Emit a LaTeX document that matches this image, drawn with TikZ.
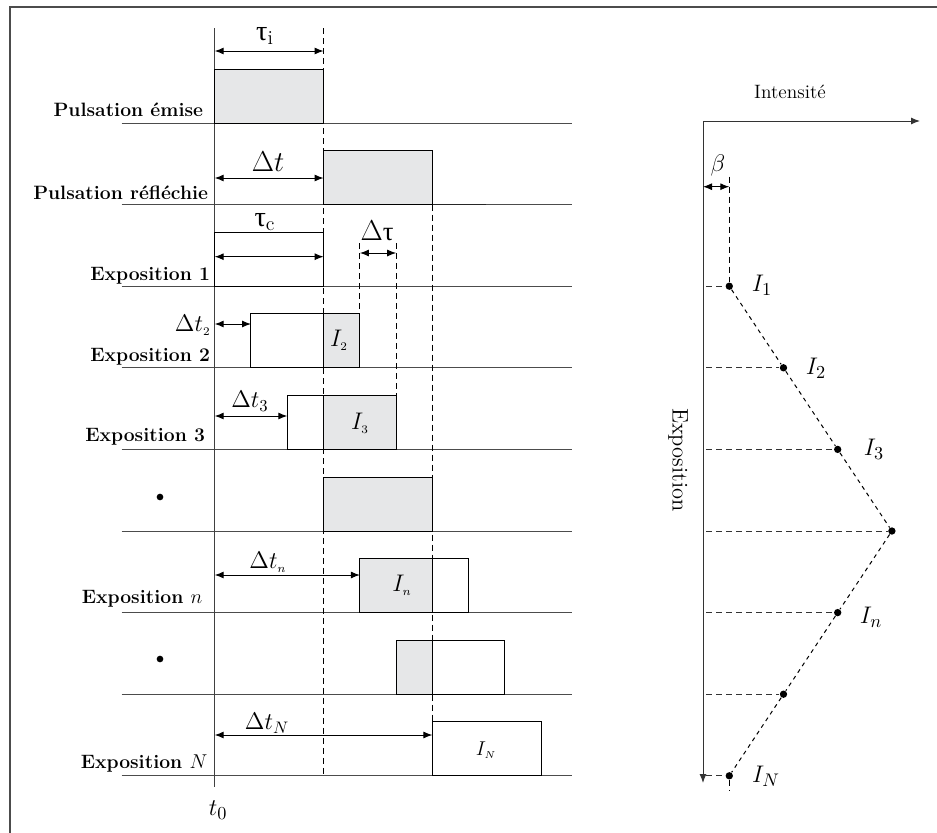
\documentclass[tikz,border=0pt]{standalone}
\usepackage{fontspec}
\usepackage{amsmath}
\usetikzlibrary{positioning, arrows.meta}
\newfontfamily\greekfont{Liberation Serif}
\definecolor{pulsegray}{RGB}{230,231,232}
\tikzset{>={Latex[length=5.4pt, width=4.2pt]}}
\tikzset{
  timeline/.style={draw=black!70},
  pulse/.style={draw=black},
  gray pulse/.style={draw=black, fill=pulsegray},
  guide/.style={dash pattern=on 3.6pt off 2.4pt},
  fine guide/.style={dash pattern=on 2.4pt off 2.4pt},
  rowlabel/.style={font=\fontsize{11.6}{13}\selectfont\bfseries, anchor=base east, inner sep=0pt},
  deltalabel/.style={font=\fontsize{14}{16}\selectfont},
  intlabel/.style={font=\fontsize{15}{18}\selectfont},
  taulabel/.style={font=\fontsize{17}{19}\selectfont\greekfont},
  point/.style={circle, fill, inner sep=0pt, minimum size=4.4pt},
}

\begin{document}
\begin{tikzpicture}[
            x=0.6pt, y=-0.6pt, line width=0.6pt
        ]
        \useasboundingbox (0,0) rectangle (937,833);
        \draw[black!70, line width=1.2pt] (10.3,833) -- (10.3,7) -- (937,7);
        % time lines and t0
        \foreach \r in {0,...,8}
            \draw[timeline] (121.7,{123+81.6*\r}) -- (572,{123+81.6*\r});
        \draw[black!85, line width=0.9pt] (351,204.6) -- (486,204.6);
        \coordinate (t0top) at (214.7,28);
        \coordinate (t0bot) at (214.7,787);
        \draw[black!75] (t0top) -- (t0bot);
        \node[intlabel] (t0) at (218,810) {$t_0$};
        % emitted and reflected pulse
        \draw[gray pulse] (214.7,123) rectangle (323.6,69);
        \draw[gray pulse] (323.6,204.6) rectangle (432.4,150.6);
        % exposures, each one shifted by a third of the pulse
        \foreach \k in {0,...,6}{
            \pgfmathsetmacro{\yb}{286.2+81.6*\k}
            \pgfmathsetmacro{\xa}{214.7+36.28*\k}
            \pgfmathsetmacro{\ga}{max(\xa,323.6)}
            \pgfmathsetmacro{\gb}{min(\xa+108.85,432.4)}
            \ifdim\ga pt<\gb pt
                \draw[gray pulse] ({\ga},{\yb}) rectangle ({\gb},{\yb-54});
            \fi
            \draw[pulse] ({\xa},{\yb}) rectangle ({\xa+108.85},{\yb-54});
        }
        % guides
        \draw[guide] (323.6,28) -- (323.6,775.8);
        \draw[guide] (432.4,204.6) -- (432.4,721.8);
        \draw[guide] (359.9,243) -- (359.9,313.8);
        \draw[guide] (396.2,243) -- (396.2,395.4);
        % row labels
        \node[rowlabel] (emise) at (203.6,116) {Pulsation émise};
        \node[rowlabel] (reflechie) at (208.6,199) {Pulsation réfléchie};
        \node[rowlabel] (exp1) at (210.5,280) {Exposition 1};
        \node[rowlabel] (exp2) at (210.5,361.7) {Exposition 2};
        \node[rowlabel] (exp3) at (205.5,441.7) {Exposition 3};
        \node[rowlabel] (expn) at (202.8,603) {Exposition $n$};
        \node[rowlabel] (expN) at (207.8,768) {Exposition $N$};
        \node[point, minimum size=4pt] (dotA) at (160,497) {};
        \node[point, minimum size=4pt] (dotB) at (160,659) {};
        % dimension arrows
        \foreach \name/\xa/\xb/\y in {ti/214.7/323.6/51, dt/214.7/323.6/178, tc/214.7/323.6/256.7,
                dtau/359.9/396.2/253, dt2/214.7/251/324, dt3/214.7/287.3/416,
                dtn/214.7/359.9/575, dtN/214.7/432.4/735}{
            \coordinate (\name-l) at (\xa,\y);
            \coordinate (\name-r) at (\xb,\y);
            \draw[<->] (\name-l) -- (\name-r);
        }
        \node[taulabel] (tauI) at (265,36) {τ$_{\mathrm{i}}$};
        \node[deltalabel, font=\fontsize{16}{18}\selectfont] (dtlab) at (268,162) {$\Delta t$};
        \node[taulabel] (tauC) at (265,222) {τ$_{\mathrm{c}}$};
        \node[deltalabel, font=\fontsize{16}{18}\selectfont] (dtaulab) at (377,231) {$\Delta$\greekfont τ};
        \node[deltalabel, anchor=east, inner sep=0pt] (dt2lab) at (211,325) {$\Delta t_{\scriptscriptstyle 2}$};
        \node[deltalabel] (dt3lab) at (250,401) {$\Delta t_3$};
        \node[deltalabel] (dtnlab) at (268,562) {$\Delta t_{\scriptscriptstyle n}$};
        \node[deltalabel] (dtNlab) at (267,723) {$\Delta t_N$};
        % intensities in the boxes
        \node[intlabel] (I2box) at (339,340) {$I_{\scriptscriptstyle 2}$};
        \node[intlabel] (I3box) at (360,423) {$I_{\scriptscriptstyle 3}$};
        \node[intlabel] (Inbox) at (402,585) {$I_{\scriptscriptstyle n}$};
        \node[intlabel, font=\fontsize{13}{15}\selectfont] (INbox) at (486,750) {$I_{\scriptscriptstyle N}$};
        % intensity against exposition
        \coordinate (O) at (703,121);
        \coordinate (Iend) at (920,121);
        \coordinate (Eend) at (703,783);
        \draw[->, black!80] (O) -- (Iend);
        \draw[->, black!80] (O) -- (Eend);
        \node[font=\fontsize{11.6}{13}\selectfont] (intens) at (790,92) {Intensité};
        \node[font=\fontsize{13.5}{16}\selectfont, rotate=-90] (expo) at (678,460) {Exposition};
        \foreach \k/\m in {0/0,1/1,2/2,3/3,4/2,5/1,6/0}{
            \node[point] (p\k) at ({729.3+54.2*\m},{286.2+81.6*\k}) {};
            \coordinate (h\k) at (706,{286.2+81.6*\k});
            \draw[guide, black!80] (h\k) -- (p\k);
        }
        \draw[fine guide] (p0) -- (p1) -- (p2) -- (p3) -- (p4) -- (p5) -- (p6);
        \coordinate (btop) at (729.3,176.7);
        \coordinate (bend) at (729.3,790);
        \draw[guide] (btop) -- (p0);
        \draw[guide] (p6) -- (bend);
        \coordinate (b-l) at (703,186.7);
        \coordinate (b-r) at (729.3,186.7);
        \draw[<->] (b-l) -- (b-r);
        \node[intlabel, font=\fontsize{14}{16}\selectfont] (beta) at (718,165) {$\beta$};
        \node[intlabel] (I1) at (762,285) {$I_1$};
        \node[intlabel] (I2) at (816,368) {$I_2$};
        \node[intlabel] (I3) at (874,449) {$I_3$};
        \node[intlabel] (In) at (871,617) {$I_n$};
        \node[intlabel] (IN) at (766,776) {$I_N$};
        \end{tikzpicture}
\end{document}
